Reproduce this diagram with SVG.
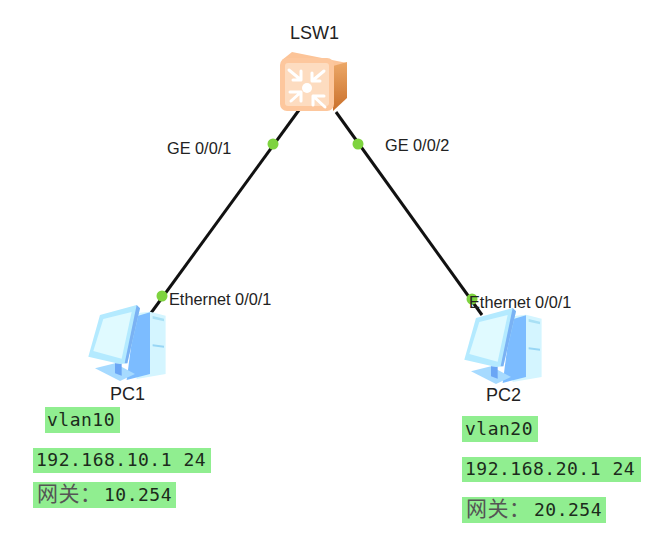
<svg xmlns="http://www.w3.org/2000/svg" width="672" height="545" viewBox="0 0 672 545">
<style>
.lbl{font-family:"Liberation Sans",Arial,sans-serif;font-size:16.3px;fill:#222}
.nm{font-family:"Liberation Sans",Arial,sans-serif;font-size:18px;fill:#222}
.hl{fill:#90ee90}
.code{font-family:"DejaVu Sans Mono","Liberation Mono",monospace;font-size:18px;letter-spacing:.5px;fill:#1c2b1c}
.cjk{font-family:"Noto Sans CJK SC",sans-serif;font-size:21px;fill:#555;letter-spacing:.5px}
.link{stroke:#111;stroke-width:3;fill:none}
.dot{fill:#7ed33f}
</style>
<defs>
<filter id="soft" x="-10%" y="-10%" width="120%" height="120%"><feGaussianBlur stdDeviation="0.6"/></filter>
<linearGradient id="side" x1="0" y1="0" x2="0" y2="1"><stop offset="0" stop-color="#eca868"/><stop offset="1" stop-color="#c96f2a"/></linearGradient>
<g id="pc">
<polygon points="345,100 390,95 437,107 437,282 350,297" fill="#d4f5ff"/>
<polygon points="345,110 390,97 390,282 320,300" fill="#7cbcff"/>
<polygon points="398,108 432,116 432,124 398,116" fill="#a9e0f5"/>
<polygon points="398,193 432,197 432,203 398,199" fill="#98d6f5"/>
<polygon points="225,265 285,250 345,282 300,303" fill="#a6daff"/>
<polygon points="285,250 305,250 305,287 285,280" fill="#6ba6f5"/>
<polygon points="205,230 240,105 350,75 360,85 322,250 300,252" fill="#b4eaff"/>
<polygon points="350,75 360,85 322,250 314,250" fill="#7ab2f4"/>
<polygon points="220,213 250,117 335,96 305,236" fill="#e0faff"/>
</g>
</defs>
<g id="connectors">
<line class="link" x1="299" y1="110" x2="151" y2="313"/>
<line class="link" x1="336" y1="112" x2="482" y2="315"/>
<circle class="dot" cx="273" cy="144" r="5.5"/>
<circle class="dot" cx="358" cy="144" r="5.5"/>
<circle class="dot" cx="162" cy="296" r="5.5"/>
<circle class="dot" cx="472" cy="299" r="5.5"/>
</g>
<g id="LSW1">
<g filter="url(#soft)">
<polygon points="282,60 292,52 347,63 334,68" fill="#fcc498"/>
<polygon points="333,66 347,62 347,98 333,111" fill="url(#side)"/>
<rect x="280" y="58" width="54" height="53" rx="7" fill="#fdc79d"/>
<rect x="285" y="63" width="44" height="43" rx="3" fill="#fddcc0"/>
<g stroke="#fff" stroke-width="3" fill="none" stroke-linecap="round" stroke-linejoin="round">
<path d="M289,70 L301,80 M293,80 H301 V71"/>
<path d="M324,71 L312,81 M320,81 H312 V73"/>
<path d="M291,101 L301,92 M290,92 H301 V101"/>
<path d="M325,107 L313,96 M313,105 V96 H324"/>
</g>
<circle cx="307" cy="88" r="5" fill="#fff"/>
</g>
<text class="nm" x="290" y="39">LSW1</text>
<text class="lbl" x="167" y="154">GE 0/0/1</text>
<text class="lbl" x="385" y="151">GE 0/0/2</text>
</g>
<g id="PC1">
<use href="#pc" transform="translate(20,280) scale(.3333)" filter="url(#soft)"/>
<text class="nm" x="110" y="400">PC1</text>
<text class="lbl" x="169" y="305">Ethernet 0/0/1</text>
<rect class="hl" x="45" y="407" width="75" height="26"/>
<text class="code" x="47" y="426">vlan10</text>
<rect class="hl" x="33" y="448" width="178" height="25"/>
<text class="code" x="36" y="466">192.168.10.1 24</text>
<rect class="hl" x="33" y="482" width="143" height="26"/>
<text class="cjk" x="37" y="501">网关：</text>
<text class="code" x="104" y="501">10.254</text>
</g>
<g id="PC2">
<use href="#pc" transform="translate(396,283) scale(.3333)" filter="url(#soft)"/>
<text class="nm" x="486" y="401">PC2</text>
<text class="lbl" x="469" y="308">Ethernet 0/0/1</text>
<rect class="hl" x="462" y="416" width="76" height="26"/>
<text class="code" x="465" y="435">vlan20</text>
<rect class="hl" x="462" y="457" width="179" height="25"/>
<text class="code" x="465" y="475">192.168.20.1 24</text>
<rect class="hl" x="462" y="497" width="144" height="26"/>
<text class="cjk" x="466" y="516">网关：</text>
<text class="code" x="534" y="516">20.254</text>
</g>
</svg>
